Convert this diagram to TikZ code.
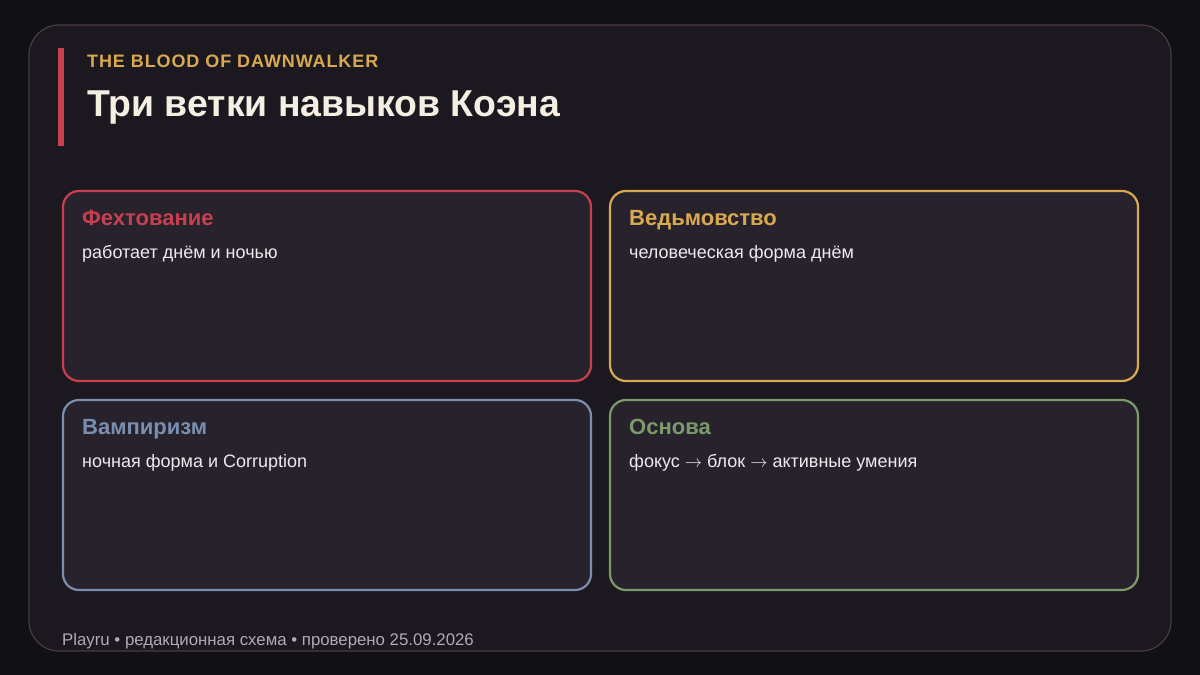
\documentclass[tikz,border=0pt]{standalone}
\usepackage{fontspec}
\setmainfont{Liberation Sans}
\definecolor{pagebg}{HTML}{111015}
\definecolor{panelbg}{HTML}{1C1820}
\definecolor{panelline}{HTML}{4A3A46}
\definecolor{cardbg}{HTML}{28222D}
\definecolor{cred}{HTML}{C8404F}
\definecolor{cgold}{HTML}{D9A94F}
\definecolor{cblue}{HTML}{7A8FB0}
\definecolor{cgreen}{HTML}{7A9A6A}
\definecolor{titlecol}{HTML}{F5EEE2}
\definecolor{bodycol}{HTML}{EEEAEE}
\definecolor{footcol}{HTML}{B3AAB3}
\newcommand{\myarrow}{{\fontsize{16}{18}\selectfont$\rightarrow$}}
\tikzset{
  card/.style={draw=#1, line width=2.2pt, fill=cardbg, rounded corners=16pt},
  cardtitle/.style={anchor=base west, inner sep=0pt, text=#1, font=\fontsize{22}{26}\selectfont\bfseries},
  cardbody/.style={anchor=base west, inner sep=0pt, text=bodycol, font=\fontsize{18}{22}\selectfont},
}
\begin{document}
\begin{tikzpicture}[x=1pt,y=-1pt]
\useasboundingbox (0,0) rectangle (1200,675);
\fill[pagebg] (0,0) rectangle (1200,675);
\draw[panelline, fill=panelbg, line width=1.2pt, rounded corners=30pt] (29,25) rectangle (1171,651);
\fill[cred] (58,48) rectangle (64,146);
\node[anchor=base west, inner sep=0pt, text=cgold, font=\fontsize{18}{22}\selectfont\bfseries\addfontfeatures{LetterSpace=5}] (sub) at (87,67) {THE BLOOD OF DAWNWALKER};
\node[anchor=base west, inner sep=0pt, text=titlecol, font=\fontsize{37.4}{42}\selectfont\bfseries] (title) at (87,116) {Три ветки навыков Коэна};

\draw[card=cred] (63,191) rectangle (591,381);
\draw[card=cgold] (610,191) rectangle (1138,381);
\draw[card=cblue] (63,400) rectangle (591,590);
\draw[card=cgreen] (610,400) rectangle (1138,590);

\node[cardtitle=cred] (t1) at (82,225) {Фехтование};
\node[cardbody] (b1) at (82,258) {работает днём и ночью};
\node[cardtitle=cgold] (t2) at (629,225) {Ведьмовство};
\node[cardbody] (b2) at (629,258) {человеческая форма днём};
\node[cardtitle=cblue] (t3) at (82,434) {Вампиризм};
\node[cardbody] (b3) at (82,467) {ночная форма и Corruption};
\node[cardtitle=cgreen] (t4) at (629,434) {Основа};
\node[cardbody] (b4) at (629,467) {фокус \myarrow{} блок \myarrow{} активные умения};

\node[anchor=base west, inner sep=0pt, text=footcol, font=\fontsize{16.8}{20}\selectfont] (foot) at (62,645) {Playru • редакционная схема • проверено 25.09.2026};
\end{tikzpicture}
\end{document}
